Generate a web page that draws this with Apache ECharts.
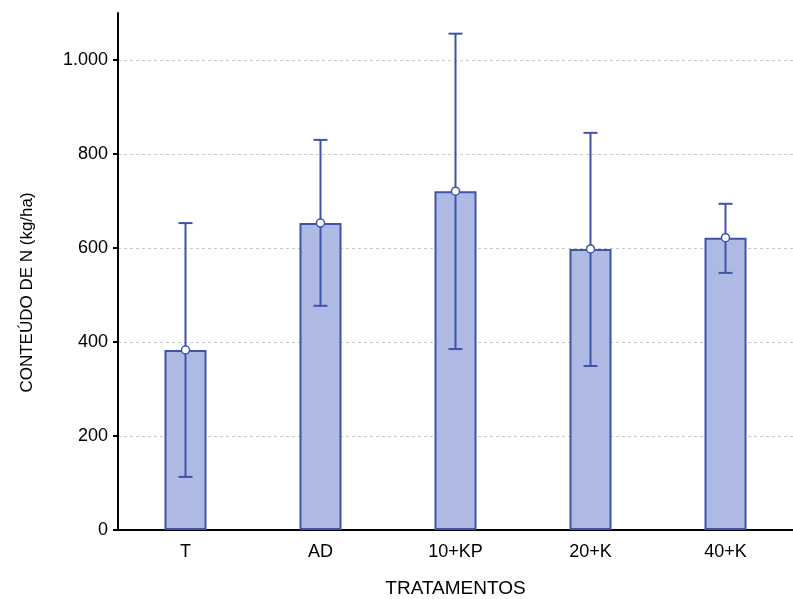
<!DOCTYPE html>
<html><head><meta charset="utf-8">
<script src="https://cdn.jsdelivr.net/npm/echarts@6/dist/echarts.min.js"></script>
<style>html,body{margin:0;padding:0;background:#fff}#c{width:793px;height:599px}</style>
</head><body><div id="c"></div>
<script>
const categories = ['T', 'AD', '10+KP', '20+K', '40+K'];
const means = [383, 653, 721, 598, 622];
const upper = [653, 830, 1056, 845, 694];
const lower = [113, 477, 385, 349, 547];
const yTicks = [0, 200, 400, 600, 800, 1000];

const blue = '#3d55a8';
const chart = echarts.init(document.getElementById('c'));
const errData = categories.map((c, i) => [i, lower[i], upper[i]]);
chart.setOption({
  animation: false,
  grid: {left: 118, right: 0, top: 13, bottom: 69, containLabel: false, outerBoundsMode: 'none'},
  xAxis: {
    type: 'category', data: categories,
    axisLine: {lineStyle: {color: '#000', width: 2}},
    axisTick: {inside: true, length: 4, alignWithLabel: true, lineStyle: {color: '#000', width: 2}},
    axisLabel: {color: '#000', fontSize: 18, fontFamily: 'Liberation Sans', margin: 13},
    name: 'TRATAMENTOS', nameLocation: 'middle', nameGap: 49,
    nameTextStyle: {color: '#000', fontSize: 19, fontFamily: 'Liberation Sans'}
  },
  yAxis: {
    type: 'value', min: 0, max: 1100, interval: 200,
    axisLine: {show: true, lineStyle: {color: '#000', width: 2}},
    axisTick: {show: true, length: 5, customValues: yTicks, lineStyle: {color: '#000', width: 2}},
    axisLabel: {color: '#000', fontSize: 18, fontFamily: 'Liberation Sans', margin: 10,
      customValues: yTicks,
      formatter: v => String(v).replace(/\B(?=(\d{3})+(?!\d))/g, '.')},
    splitLine: {show: true, lineStyle: {color: '#c8c8c8', type: [3, 3], width: 1}},
    name: 'CONTEÚDO DE N (kg/ha)', nameLocation: 'middle', nameGap: 82,
    nameTextStyle: {color: '#000', fontSize: 17, fontFamily: 'Liberation Sans', padding: [0, 42, 0, 0]}
  },
  series: [
    {
      type: 'bar', data: means, barWidth: 42,
      itemStyle: {color: '#afbae4', borderColor: blue, borderWidth: 2}
    },
    {
      type: 'custom', data: errData, z: 5,
      renderItem: (params, api) => {
        const x = api.value(0);
        const lo = api.coord([x, api.value(1)]);
        const hi = api.coord([x, api.value(2)]);
        const hw = 7;
        const style = {stroke: blue, lineWidth: 2};
        return {type: 'group', children: [
          {type: 'line', shape: {x1: lo[0], y1: lo[1], x2: hi[0], y2: hi[1]}, style},
          {type: 'line', shape: {x1: lo[0] - hw, y1: lo[1], x2: lo[0] + hw, y2: lo[1]}, style},
          {type: 'line', shape: {x1: hi[0] - hw, y1: hi[1], x2: hi[0] + hw, y2: hi[1]}, style}
        ]};
      }
    },
    {
      type: 'scatter', data: means, symbol: 'circle', symbolSize: 8, z: 10,
      itemStyle: {color: '#fff', borderColor: blue, borderWidth: 1.5, opacity: 1}
    }
  ]
});
</script></body></html>
